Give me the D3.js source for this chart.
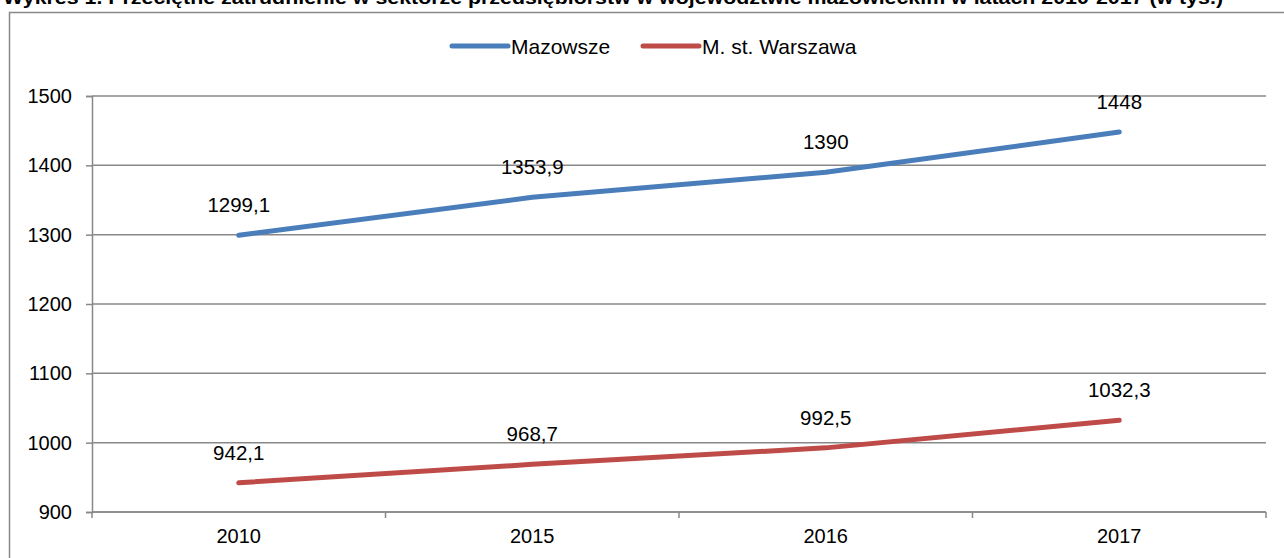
<!DOCTYPE html>
<html>
<head>
<meta charset="utf-8">
<script src="https://cdn.jsdelivr.net/npm/d3@7"></script>
<style>
  body { margin: 0; background: #fff; }
  svg { display: block; font-family: "Liberation Sans", Arial, sans-serif; }
</style>
</head>
<body>
<div id="chart"></div>
<script>
// data
const years = ["2010", "2015", "2016", "2017"];
const mazowsze = [1299.1, 1353.9, 1390, 1448];
const warszawa = [942.1, 968.7, 992.5, 1032.3];
const yTicks = [900, 1000, 1100, 1200, 1300, 1400, 1500];
const seriesNames = ["Mazowsze", "M. st. Warszawa"];
const seriesColors = ["#4a7ebb", "#be4b48"];
const titleText = "Wykres 1. Przeciętne zatrudnienie w sektorze przedsiębiorstw w województwie mazowieckim w latach 2010-2017 (w tys.)";

const W = 1284, H = 558;
const margin = {top: 96, right: 18, bottom: 46, left: 92};
const width = W - margin.left - margin.right,
      height = H - margin.top - margin.bottom;
const fontFam = "Liberation Sans, Arial, sans-serif";

const svg = d3.select("#chart").append("svg")
  .attr("width", W)
  .attr("height", H);

// title, clipped at the top edge like in the source
svg.append("text")
  .attr("x", 3)
  .attr("y", 4)
  .attr("font-weight", "bold")
  .attr("font-size", 18)
  .attr("textLength", 1220)
  .attr("lengthAdjust", "spacingAndGlyphs")
  .text(titleText);

// outer frame
svg.append("rect")
  .attr("x", 9.5).attr("y", 12.5)
  .attr("width", W).attr("height", H)
  .attr("fill", "none")
  .attr("stroke", "#888")
  .attr("stroke-width", 1.5);

const g = svg.append("g")
  .attr("transform", `translate(${margin.left},${margin.top})`);

const x = d3.scaleBand().domain(years).range([0, width]);
const y = d3.scaleLinear().domain([900, 1500]).range([height, 0]);

// gridlines
g.append("g")
  .selectAll("line")
  .data(yTicks)
  .join("line")
  .attr("x1", 0).attr("x2", width)
  .attr("y1", d => y(d)).attr("y2", d => y(d))
  .attr("stroke", "#888")
  .attr("stroke-width", 1.5);

// y axis
const yAxis = g.append("g")
  .call(d3.axisLeft(y).tickValues(yTicks).tickSize(6).tickPadding(14).tickFormat(d3.format("d")));
yAxis.attr("font-size", 20).attr("font-family", fontFam);
yAxis.select(".domain").attr("stroke", "#888").attr("stroke-width", 1.5);
yAxis.selectAll(".tick line").attr("stroke", "#888").attr("stroke-width", 1.5);
yAxis.selectAll("text").attr("fill", "#000");

// x axis, ticks on band boundaries
const xAxis = g.append("g")
  .attr("transform", `translate(0,${height})`)
  .call(d3.axisBottom(x).tickSize(0).tickPadding(17));
xAxis.attr("font-size", 20).attr("font-family", fontFam);
xAxis.select(".domain").remove();
xAxis.selectAll("text").attr("fill", "#000");
g.append("line")
  .attr("x1", 0).attr("x2", width)
  .attr("y1", height).attr("y2", height)
  .attr("stroke", "#888").attr("stroke-width", 1.5);
g.append("g")
  .selectAll("line")
  .data(d3.range(years.length + 1))
  .join("line")
  .attr("x1", i => i * x.step()).attr("x2", i => i * x.step())
  .attr("y1", height).attr("y2", height + 6)
  .attr("stroke", "#888").attr("stroke-width", 1.5);

// lines
const fmt = v => String(v).replace(".", ",");
const line = d3.line()
  .x((d, i) => x(years[i]) + x.bandwidth() / 2)
  .y(d => y(d));

[mazowsze, warszawa].forEach((vals, si) => {
  g.append("path")
    .datum(vals)
    .attr("d", line)
    .attr("fill", "none")
    .attr("stroke", seriesColors[si])
    .attr("stroke-width", 5)
    .attr("stroke-linecap", "round");

  g.append("g")
    .selectAll("text")
    .data(vals)
    .join("text")
    .attr("x", (d, i) => x(years[i]) + x.bandwidth() / 2)
    .attr("y", d => y(d) - 23)
    .attr("text-anchor", "middle")
    .attr("font-size", 20.5)
    .text(fmt);
});

// legend
const legendX = [452, 643];
seriesNames.forEach((name, i) => {
  svg.append("line")
    .attr("x1", legendX[i]).attr("x2", legendX[i] + 56)
    .attr("y1", 46).attr("y2", 46)
    .attr("stroke", seriesColors[i])
    .attr("stroke-width", 5)
    .attr("stroke-linecap", "round");
  svg.append("text")
    .attr("x", legendX[i] + 59)
    .attr("y", 53.5)
    .attr("font-size", 21)
    .text(name);
});
</script>
</body>
</html>
